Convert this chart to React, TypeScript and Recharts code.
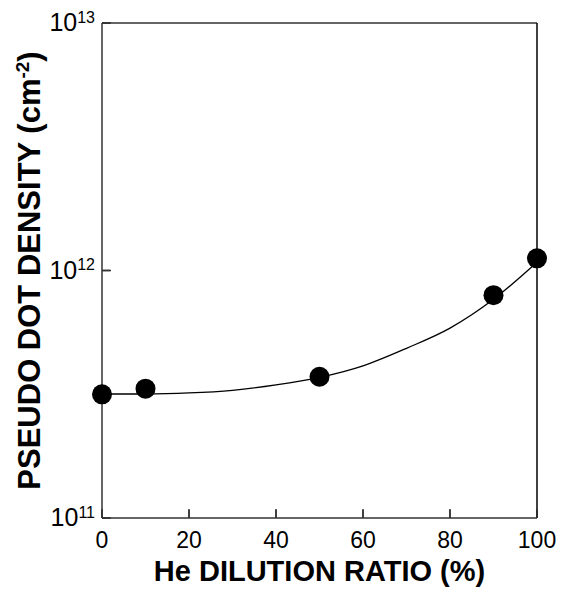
import React from 'react';
import { ComposedChart, XAxis, YAxis, Line, Scatter } from 'recharts';

const measured = [
  { x: 0, y: 3.16e11 },
  { x: 10, y: 3.33e11 },
  { x: 50, y: 3.72e11 },
  { x: 90, y: 7.95e11 },
  { x: 100, y: 1.12e12 },
];

const fitCurve = [
  { x: 0, y: 3.17e11 },
  { x: 10, y: 3.17e11 },
  { x: 20, y: 3.2e11 },
  { x: 30, y: 3.28e11 },
  { x: 40, y: 3.45e11 },
  { x: 50, y: 3.7e11 },
  { x: 60, y: 4.12e11 },
  { x: 70, y: 4.85e11 },
  { x: 80, y: 5.85e11 },
  { x: 90, y: 7.65e11 },
  { x: 100, y: 1.08e12 },
];

const xMajorTicks = [0, 20, 40, 60, 80, 100];
const xMinorTicks = [5, 10, 15, 25, 30, 35, 45, 50, 55, 65, 70, 75, 85, 90, 95];
const yMajorTicks = [1e11, 1e12, 1e13];
const yMajorExp = ['11', '12', '13'];
const yMinorTicks = [
  2e11, 3e11, 4e11, 5e11, 6e11, 7e11, 8e11, 9e11,
  2e12, 3e12, 4e12, 5e12, 6e12, 7e12, 8e12, 9e12,
];

const xTitle = 'He DILUTION RATIO (%)';
const yTitleMain = 'PSEUDO DOT DENSITY (cm';
const yTitleSup = '-2';
const yTitleEnd = ')';

const FONT = 'Liberation Sans, Arial, sans-serif';
const AXIS = '#333';
const TW = 1.5;
const MAJ = 9;
const MIN = 5;

function BottomMajor(props: any) {
  const x = Number(props.x);
  const y = Number(props.y);
  return (
    <g>
      <line x1={x} x2={x} y1={y} y2={y - MAJ} stroke={AXIS} strokeWidth={TW} />
      <text x={x} y={y + 30} textAnchor="middle" fontSize={23} fontFamily={FONT} fill="#000">
        {props.payload.value}
      </text>
    </g>
  );
}

function BottomMinor(props: any) {
  const x = Number(props.x);
  const y = Number(props.y);
  return <line x1={x} x2={x} y1={y - 1} y2={y - 1 - MIN} stroke={AXIS} strokeWidth={TW} />;
}

function TopMajor(props: any) {
  const x = Number(props.x);
  const y = Number(props.y);
  return <line x1={x} x2={x} y1={y} y2={y + MAJ} stroke={AXIS} strokeWidth={TW} />;
}

function TopMinor(props: any) {
  const x = Number(props.x);
  const y = Number(props.y);
  return <line x1={x} x2={x} y1={y + 1} y2={y + 1 + MIN} stroke={AXIS} strokeWidth={TW} />;
}

function LeftMajor(props: any) {
  const x = Number(props.x);
  const y = Number(props.y);
  const idx = yMajorTicks.findIndex((m) => Math.abs(m - props.payload.value) / m < 1e-6);
  return (
    <g>
      <line x1={x} x2={x + MAJ} y1={y} y2={y} stroke={AXIS} strokeWidth={TW} />
      <text x={x - 7} y={y + 8} textAnchor="end" fontSize={25} fontFamily={FONT} fill="#000">
        10
        <tspan fontSize={16} dy={-8.5}>{idx >= 0 ? yMajorExp[idx] : ''}</tspan>
      </text>
    </g>
  );
}

function LeftMinor(props: any) {
  const x = Number(props.x);
  const y = Number(props.y);
  return <line x1={x + 1} x2={x + 1 + MIN} y1={y} y2={y} stroke={AXIS} strokeWidth={TW} />;
}

function RightMajor(props: any) {
  const x = Number(props.x);
  const y = Number(props.y);
  return <line x1={x} x2={x - MAJ} y1={y} y2={y} stroke="#000" strokeWidth={TW} />;
}

function RightMinor(props: any) {
  const x = Number(props.x);
  const y = Number(props.y);
  return <line x1={x - 1} x2={x - 1 - MIN} y1={y} y2={y} stroke="#000" strokeWidth={TW} />;
}

function XTitle(props: any) {
  const vb = props.viewBox || { x: 102, y: 518, width: 435, height: 1 };
  return (
    <text
      x={vb.x + vb.width / 2}
      y={518 + 63}
      textAnchor="middle"
      fontSize={29}
      fontWeight="bold"
      fontFamily={FONT}
      fill="#000"
    >
      {xTitle}
    </text>
  );
}

function YTitle(props: any) {
  const vb = props.viewBox || { x: 101, y: 23, width: 1, height: 495 };
  const cx = 40;
  const cy = vb.y + vb.height / 2;
  return (
    <text
      x={cx}
      y={cy}
      transform={`rotate(-90, ${cx}, ${cy})`}
      textAnchor="middle"
      fontSize={31}
      fontWeight="bold"
      fontFamily={FONT}
      fill="#000"
    >
      {yTitleMain}
      <tspan fontSize={19} dy={-11}>{yTitleSup}</tspan>
      <tspan dy={11}>{yTitleEnd}</tspan>
    </text>
  );
}

function Dot(props: any) {
  const { cx, cy } = props;
  return <circle cx={cx} cy={cy} r={10} fill="#000" />;
}

const common = { type: 'number' as const, interval: 0 as const, allowDecimals: true };

export default function App() {
  return (
    <div style={{ position: 'absolute', left: 0, top: 0, width: 565, height: 590, background: '#fff' }}>
      <ComposedChart width={565} height={590} margin={{ top: 21, right: 26, bottom: 70, left: 100 }}>
        <XAxis
          {...common}
          xAxisId="bottom"
          dataKey="x"
          domain={[0, 100]}
          ticks={xMajorTicks}
          height={1}
          tickSize={-8}
          tickMargin={8}
          tickLine={{ stroke: AXIS, strokeWidth: TW }}
          axisLine={{ stroke: AXIS, strokeWidth: TW }}
          tick={BottomMajor}
          label={<XTitle />}
        />
        <XAxis
          {...common}
          xAxisId="bottomMinor"
          domain={[0, 100]}
          ticks={xMinorTicks}
          height={1}
          tickSize={-5}
          tickMargin={5}
          tickLine={{ stroke: AXIS, strokeWidth: TW }}
          axisLine={false}
          tick={BottomMinor}
        />
        <XAxis
          {...common}
          xAxisId="top"
          orientation="top"
          domain={[0, 100]}
          ticks={xMajorTicks}
          height={1}
          tickSize={-8}
          tickMargin={8}
          tickLine={{ stroke: AXIS, strokeWidth: TW }}
          axisLine={{ stroke: AXIS, strokeWidth: TW }}
          tick={TopMajor}
        />
        <XAxis
          {...common}
          xAxisId="topMinor"
          orientation="top"
          domain={[0, 100]}
          ticks={xMinorTicks}
          height={1}
          tickSize={-5}
          tickMargin={5}
          tickLine={{ stroke: AXIS, strokeWidth: TW }}
          axisLine={false}
          tick={TopMinor}
        />
        <YAxis
          {...common}
          yAxisId="left"
          dataKey="y"
          scale="log"
          domain={[1e11, 1e13]}
          ticks={yMajorTicks}
          width={1}
          tickSize={-8}
          tickMargin={8}
          tickLine={{ stroke: AXIS, strokeWidth: TW }}
          axisLine={{ stroke: AXIS, strokeWidth: TW }}
          tick={LeftMajor}
          label={<YTitle />}
        />
        <YAxis
          {...common}
          yAxisId="leftMinor"
          scale="log"
          domain={[1e11, 1e13]}
          ticks={yMinorTicks}
          width={1}
          tickSize={-5}
          tickMargin={5}
          tickLine={{ stroke: AXIS, strokeWidth: TW }}
          axisLine={false}
          tick={LeftMinor}
        />
        <YAxis
          {...common}
          yAxisId="right"
          orientation="right"
          scale="log"
          domain={[1e11, 1e13]}
          ticks={yMajorTicks}
          width={1}
          tickSize={-8}
          tickMargin={8}
          tickLine={{ stroke: '#000', strokeWidth: TW }}
          axisLine={{ stroke: '#000', strokeWidth: TW }}
          tick={RightMajor}
        />
        <YAxis
          {...common}
          yAxisId="rightMinor"
          orientation="right"
          scale="log"
          domain={[1e11, 1e13]}
          ticks={yMinorTicks}
          width={1}
          tickSize={-5}
          tickMargin={5}
          tickLine={{ stroke: '#000', strokeWidth: TW }}
          axisLine={false}
          tick={RightMinor}
        />
        <Line
          data={fitCurve}
          dataKey="y"
          xAxisId="bottom"
          yAxisId="left"
          type="monotone"
          stroke="#000"
          strokeWidth={1.3}
          dot={false}
          activeDot={false}
          isAnimationActive={false}
        />
        <Scatter
          data={measured}
          dataKey="y"
          xAxisId="bottom"
          yAxisId="left"
          fill="#000"
          shape={<Dot />}
          isAnimationActive={false}
        />
      </ComposedChart>
    </div>
  );
}
